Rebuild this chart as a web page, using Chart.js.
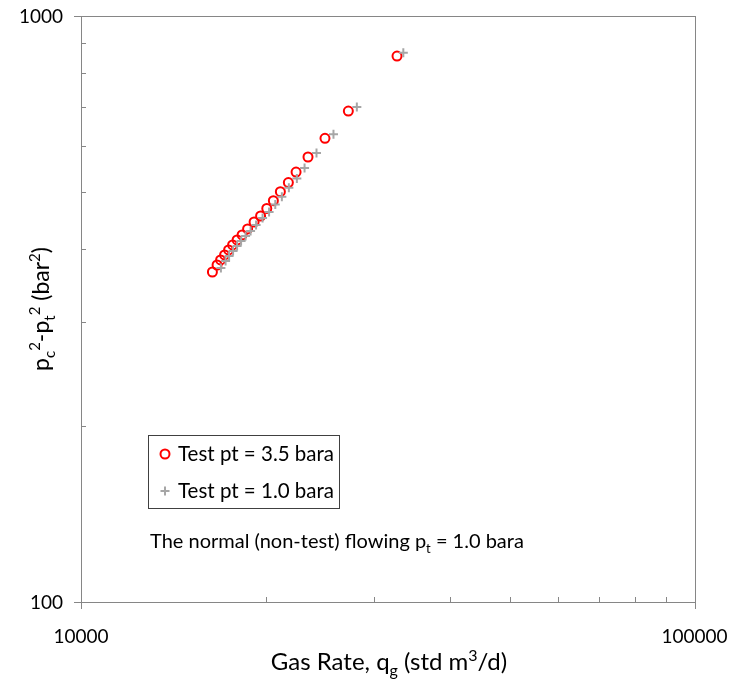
<!DOCTYPE html>
<html>
<head>
<meta charset="utf-8">
<script src="https://cdn.jsdelivr.net/npm/chart.js@4.4.1/dist/chart.umd.min.js"></script>
<style>
  html, body { margin: 0; padding: 0; background: #fff; }
  canvas { display: block; }
</style>
</head>
<body>
<canvas id="ipr" width="732" height="681"></canvas>
<script>
// Gas rate (std m3/d) and p_c^2 - p_t^2 (bar^2) for the two test runs
const rate35 = [16375, 16665, 16886, 17141, 17401, 17664, 17965, 18305, 18687, 19148,
                19621, 20082, 20585, 21133, 21777, 22416, 23443, 24985, 27275, 32742];
const dp35   = [365.7, 375.9, 383.4, 391.0, 398.8, 406.7, 414.8, 423.0, 433.1, 445.1,
                455.7, 469.4, 484.0, 501.4, 519.8, 541.7, 574.6, 618.5, 688.3, 854.4];
const rate10 = [16906, 17205, 17433, 17696, 17965, 18236, 18547, 18898, 19292, 19768,
                20257, 20733, 21252, 21818, 22483, 23142, 24203, 25795, 28159, 33525];
const dp10   = [371.5, 381.9, 389.5, 397.2, 405.1, 413.2, 421.4, 429.7, 440.0, 452.2,
                462.9, 476.9, 491.7, 509.4, 528.1, 550.3, 583.7, 628.3, 699.2, 865.6];

const xLabels = [10000, 100000];
const yLabels = [100, 1000];
const seriesNames = ['Test pt = 3.5 bara', 'Test pt = 1.0 bara'];

const FONT = 'Lato, "Open Sans", sans-serif';
const AXIS = '#868686';
const RED = '#ff0000';
const GREY = '#a6a6a6';

const toPts = (xs, ys) => xs.map((x, i) => ({ x: x, y: ys[i] }));

// 1..9 times each decade between lo and hi
function logSteps(lo, hi) {
  const out = [];
  for (let d = lo; d < hi; d *= 10) {
    for (let m = 1; m < 10; m++) out.push(d * m);
  }
  out.push(hi);
  return out;
}

// text with sub/superscript runs: [text, 'n' | 'sub' | 'sup']
function drawRuns(ctx, runs, x, y, size, align) {
  const small = Math.round(size * 0.65);
  const widths = runs.map(r => {
    ctx.font = (r[1] === 'n' ? size : small) + 'px ' + FONT;
    return ctx.measureText(r[0]).width;
  });
  const total = widths.reduce((a, b) => a + b, 0);
  let cx = align === 'center' ? x - total / 2 : (align === 'right' ? x - total : x);
  ctx.textBaseline = 'alphabetic';
  ctx.textAlign = 'left';
  runs.forEach((r, i) => {
    ctx.font = (r[1] === 'n' ? size : small) + 'px ' + FONT;
    let dy = 0;
    if (r[1] === 'sub') dy = size * 0.25;
    if (r[1] === 'sup') dy = -size * 0.38;
    ctx.fillText(r[0], cx, y + dy);
    cx += widths[i];
  });
}

function drawCircle(ctx, x, y) {
  ctx.beginPath();
  ctx.arc(x, y, 4.5, 0, Math.PI * 2);
  ctx.strokeStyle = RED;
  ctx.lineWidth = 2;
  ctx.stroke();
}

function drawPlus(ctx, x, y) {
  ctx.beginPath();
  ctx.moveTo(x - 4.5, y); ctx.lineTo(x + 4.5, y);
  ctx.moveTo(x, y - 4.5); ctx.lineTo(x, y + 4.5);
  ctx.strokeStyle = GREY;
  ctx.lineWidth = 2;
  ctx.stroke();
}

// frame, inner tick marks, tick labels, titles, legend and note
const decor = {
  id: 'decor',
  beforeDatasetsDraw(chart) {
    const { ctx, chartArea: a, scales } = chart;
    ctx.save();
    ctx.strokeStyle = AXIS;
    ctx.lineWidth = 1;
    ctx.strokeRect(Math.round(a.left) + 0.5, Math.round(a.top) + 0.5,
      Math.round(a.right - a.left), Math.round(a.bottom - a.top));

    ctx.beginPath();
    logSteps(10000, 100000).forEach(v => {
      const px = Math.round(scales.x.getPixelForValue(v)) + 0.5;
      const major = xLabels.includes(v);
      ctx.moveTo(px, a.bottom - 5);
      ctx.lineTo(px, a.bottom + (major ? 7 : 0));
    });
    logSteps(100, 1000).forEach(v => {
      const py = Math.round(scales.y.getPixelForValue(v)) + 0.5;
      const major = yLabels.includes(v);
      ctx.moveTo(a.left + 5, py);
      ctx.lineTo(a.left - (major ? 7 : 0), py);
    });
    ctx.stroke();

    ctx.fillStyle = '#000';
    xLabels.forEach(v => {
      drawRuns(ctx, [[String(v), 'n']], scales.x.getPixelForValue(v), a.bottom + 41, 19, 'center');
    });
    yLabels.forEach(v => {
      drawRuns(ctx, [[String(v), 'n']], a.left - 18, scales.y.getPixelForValue(v) + 7, 19, 'right');
    });
    ctx.restore();
  },
  afterDraw(chart) {
    const { ctx } = chart;
    ctx.save();
    ctx.fillStyle = '#000';

    drawRuns(ctx, [['Gas Rate, q', 'n'], ['g', 'sub'], [' (std m', 'n'], ['3', 'sup'], ['/d)', 'n']],
      389, 670, 24, 'center');

    ctx.save();
    ctx.translate(49, 309);
    ctx.rotate(-Math.PI / 2);
    drawRuns(ctx, [['p', 'n'], ['c', 'sub'], ['2', 'sup'], ['-p', 'n'], ['t', 'sub'], ['2', 'sup'],
      [' (bar', 'n'], ['2', 'sup'], [')', 'n']], 0, 0, 23, 'center');
    ctx.restore();

    // legend box
    ctx.strokeStyle = '#404040';
    ctx.lineWidth = 1;
    ctx.strokeRect(148.5, 435.5, 191, 73);
    drawCircle(ctx, 165, 454);
    drawPlus(ctx, 165, 491);
    ctx.fillStyle = '#000';
    drawRuns(ctx, [[seriesNames[0], 'n']], 178, 461, 20.5, 'left');
    drawRuns(ctx, [[seriesNames[1], 'n']], 178, 498, 20.5, 'left');

    drawRuns(ctx, [['The normal (non-test) flowing p', 'n'], ['t', 'sub'], [' = 1.0 bara', 'n']],
      150, 548, 20, 'left');
    ctx.restore();
  }
};

new Chart(document.getElementById('ipr'), {
  type: 'scatter',
  data: {
    datasets: [
      {
        label: seriesNames[0],
        data: toPts(rate35, dp35),
        pointStyle: 'circle',
        pointRadius: 4.5,
        borderWidth: 2,
        borderColor: RED,
        backgroundColor: 'rgba(0,0,0,0)',
        order: 1
      },
      {
        label: seriesNames[1],
        data: toPts(rate10, dp10),
        pointStyle: 'cross',
        pointRadius: 4.5,
        borderWidth: 2,
        borderColor: GREY,
        backgroundColor: GREY,
        order: 0
      }
    ]
  },
  options: {
    responsive: false,
    animation: false,
    layout: { padding: { top: 16, right: 37.5, left: 0, bottom: 0 } },
    plugins: {
      legend: { display: false },
      tooltip: { enabled: false }
    },
    scales: {
      x: {
        type: 'logarithmic',
        min: 10000,
        max: 100000,
        grid: { display: false },
        border: { display: false },
        ticks: { display: false },
        afterFit: s => { s.height = 79; }
      },
      y: {
        type: 'logarithmic',
        min: 100,
        max: 1000,
        grid: { display: false },
        border: { display: false },
        ticks: { display: false },
        afterFit: s => { s.width = 81; }
      }
    }
  },
  plugins: [decor]
});
</script>
</body>
</html>
